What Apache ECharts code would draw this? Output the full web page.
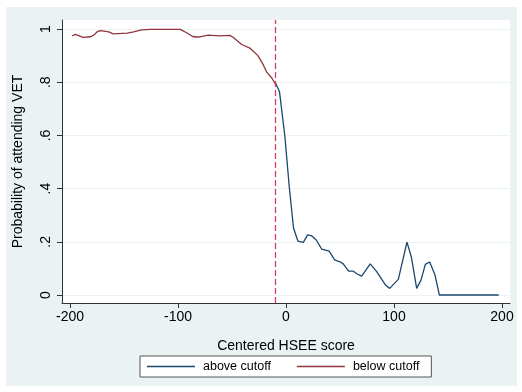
<!DOCTYPE html>
<html>
<head>
<meta charset="utf-8">
<script src="https://cdn.jsdelivr.net/npm/echarts@6/dist/echarts.min.js"></script>
<style>
  html, body { margin: 0; padding: 0; background: #fff; }
  #main { width: 522px; height: 392px; }
</style>
</head>
<body>
<div id="main"></div>
<script>
// 数据
var belowX = [-198, -195, -188, -181, -178, -175, -172, -164, -160, -147, -141, -134, -126, -98, -92, -86, -81, -72, -61, -52, -49, -41, -33, -26, -21, -18, -13, -10];
var belowY = [0.974, 0.980, 0.969, 0.971, 0.977, 0.989, 0.994, 0.989, 0.982, 0.985, 0.989, 0.997, 0.999, 0.999, 0.986, 0.971, 0.970, 0.977, 0.974, 0.976, 0.969, 0.942, 0.927, 0.900, 0.865, 0.839, 0.815, 0.795];
var aboveX = [-10, -6, -1, 3, 7, 11, 16, 20, 24, 28, 33, 40, 45, 50, 53, 58, 62, 66, 70, 78, 84, 92, 96, 104, 112, 116, 121, 125, 129, 133, 138, 142, 197];
var aboveY = [0.800, 0.764, 0.595, 0.407, 0.251, 0.203, 0.198, 0.226, 0.222, 0.207, 0.173, 0.165, 0.132, 0.125, 0.117, 0.090, 0.090, 0.079, 0.071, 0.117, 0.088, 0.038, 0.025, 0.059, 0.199, 0.144, 0.025, 0.056, 0.115, 0.124, 0.075, 0, 0];
var cutoff = -10;
var xTicks = [-200, -100, 0, 100, 200];
var yTicks = [0, 0.2, 0.4, 0.6, 0.8, 1];

function pairs(xs, ys) {
    return xs.map(function (x, i) { return [x, ys[i]]; });
}

var font = 'Liberation Sans, Helvetica, Arial, sans-serif';
var lineIcon = 'path://M0,0 L48,0 L48,1.4 L0,1.4 Z';
var myChart = echarts.init(document.getElementById('main'));
myChart.setOption({
    backgroundColor: '#eaf2f3',
    animation: false,
    textStyle: { fontFamily: font },
    // 外圈白边
    graphic: [
        { type: 'rect', silent: true, shape: { x: 0, y: 0, width: 522, height: 7 }, style: { fill: '#fff' } },
        { type: 'rect', silent: true, shape: { x: 0, y: 386, width: 522, height: 6 }, style: { fill: '#fff' } },
        { type: 'rect', silent: true, shape: { x: 0, y: 0, width: 6, height: 392 }, style: { fill: '#fff' } },
        { type: 'rect', silent: true, shape: { x: 517, y: 0, width: 5, height: 392 }, style: { fill: '#fff' } }
    ],
    grid: {
        left: 62, right: 12, top: 20, bottom: 89,
        show: true,
        backgroundColor: '#ffffff',
        borderWidth: 0
    },
    legend: {
        left: 140, top: 356,
        padding: [4, 12, 4, 7],
        itemWidth: 48,
        itemHeight: 14,
        itemGap: 26,
        backgroundColor: '#ffffff',
        borderColor: '#555',
        borderWidth: 1,
        borderRadius: 0,
        textStyle: { fontSize: 12.5, color: '#000', fontFamily: font, padding: [0, 0, 0, 3] },
        data: [
            { name: 'above cutoff', icon: lineIcon, itemStyle: { color: '#1a476f' } },
            { name: 'below cutoff', icon: lineIcon, itemStyle: { color: '#90353b' } }
        ]
    },
    xAxis: {
        type: 'value',
        min: -207.4,
        max: 207.4,
        name: 'Centered HSEE score',
        nameLocation: 'middle',
        nameGap: 36,
        nameTextStyle: { fontSize: 14, color: '#000', fontFamily: font },
        axisLine: { onZero: false, lineStyle: { color: '#333', width: 1 } },
        axisTick: { show: true, length: 5, customValues: xTicks, lineStyle: { color: '#333' } },
        axisLabel: { customValues: xTicks, fontSize: 14, color: '#000', margin: 7, fontFamily: font },
        splitLine: { show: false }
    },
    yAxis: {
        type: 'value',
        min: -0.03,
        max: 1.034,
        name: 'Probability of attending VET',
        nameLocation: 'middle',
        nameRotate: 90,
        nameGap: 37,
        nameTextStyle: { fontSize: 14, color: '#000', fontFamily: font },
        axisLine: { show: true, onZero: false, lineStyle: { color: '#333', width: 1 } },
        axisTick: { show: true, length: 5, customValues: yTicks, lineStyle: { color: '#333' } },
        axisLabel: {
            customValues: yTicks,
            rotate: 90,
            fontSize: 14,
            color: '#000',
            margin: 9,
            fontFamily: font,
            formatter: function (v) {
                if (v === 0) return '0';
                if (v === 1) return '1';
                return String(+v.toFixed(1)).replace(/^0/, '');
            }
        },
        splitLine: { show: true, lineStyle: { color: '#eaf2f3', width: 1 } }
    },
    series: [{
        name: 'above cutoff',
        type: 'line',
        data: pairs(aboveX, aboveY),
        showSymbol: false,
        symbol: 'none',
        color: '#1a476f',
        lineStyle: { color: '#1a476f', width: 1.3 },
        z: 3
    }, {
        name: 'below cutoff',
        type: 'line',
        data: pairs(belowX, belowY),
        showSymbol: false,
        symbol: 'none',
        color: '#90353b',
        lineStyle: { color: '#90353b', width: 1.3 },
        z: 3,
        markLine: {
            silent: true,
            symbol: ['none', 'none'],
            label: { show: false },
            lineStyle: { color: '#dc3c64', type: [6, 3], width: 1.3 },
            data: [{ xAxis: cutoff }]
        }
    }]
});
</script>
</body>
</html>
